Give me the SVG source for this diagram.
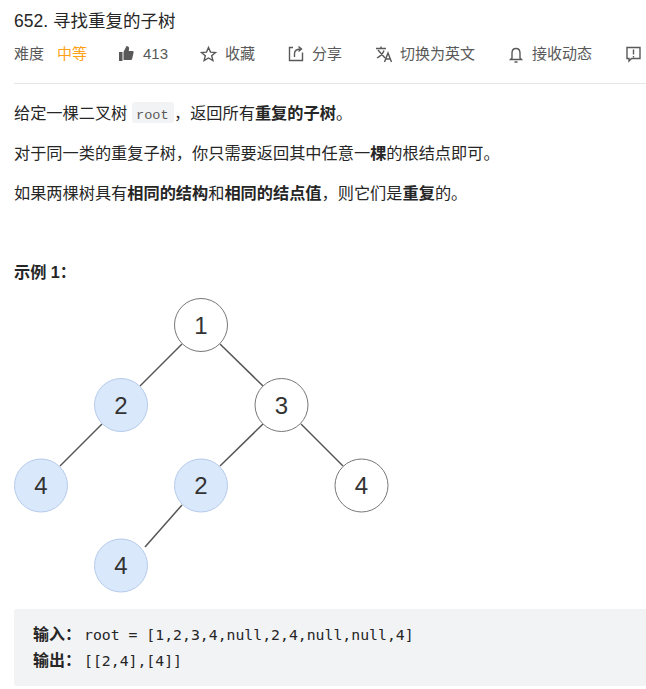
<svg xmlns="http://www.w3.org/2000/svg" width="646" height="689" viewBox="0 0 646 689">
<style>
text{font-family:"Liberation Sans","Noto Sans CJK SC",sans-serif;}
.t{font-size:16.200px;fill:#262626;}
.b{font-weight:bold;}
.m{font-size:15px;fill:#595959;}
.c{font-family:"DejaVu Sans Mono",monospace;font-size:14.800px;fill:#262626;}
.cl{font-size:16px;font-weight:bold;fill:#262626;}
.n{font-family:"Liberation Sans",sans-serif;font-size:24px;fill:#333;text-anchor:middle;}
.nc{stroke:#777;stroke-width:1;fill:#fff;}
.nb{stroke:#b5cbea;stroke-width:1;fill:#dae8fc;}
.e{stroke:#555;stroke-width:1.500;fill:none;}
.i{fill:none;stroke:#595959;stroke-width:1.400;}
</style>
<rect width="646" height="689" fill="#fff"/>
<text x="14" y="27" font-size="17.500" fill="#262626">652. 寻找重复的子树</text>
<g id="meta">
<text class="m" x="14" y="59">难度</text>
<text class="m" x="57" y="59" style="fill:#ffa116">中等</text>
<path d="M119 52h3.500v9H119zM123.500 52l3-6c1.500 0 2.800 1 2.600 2.500l-.4 2.500h3.800c.8 0 1.300.7 1.100 1.500l-1.500 6.500c-.2.600-.6 1-1.200 1h-7.400z" fill="#595959"/>
<text class="m" x="143" y="59">413</text>
<path class="i" d="M208.500 47.500l2 4.600 5 .4-3.800 3.200 1.200 4.900-4.400-2.600-4.400 2.600 1.200-4.900-3.800-3.200 5-.4z"/>
<text class="m" x="225" y="59">收藏</text>
<path class="i" d="M293 47.500h-3.500v13h13v-8M294.500 57v-3.500c0-3 2-4.500 7-4.500M298.500 46.500l3 2.500-3 2.500"/>
<text class="m" x="312" y="59">分享</text>
<path class="i" d="M376 48.500h10M381 46.500v2M378 50l7 8M384 50.500c-1 3-3.500 5.500-7 7.500M384.500 62l3.500-9 3.500 9M385.800 59h4.400" stroke-width="1.200"/>
<text class="m" x="400" y="59">切换为英文</text>
<path class="i" d="M512 58v-5c0-2.500 1.500-4.500 4-4.500s4 2 4 4.500v5l1.500 1.500h-11zM514.500 62h3"/>
<text class="m" x="532" y="59">接收动态</text>
<path class="i" d="M627 47.500h13v11h-8.500l-2.500 2.500v-2.500h-2z"/>
<path d="M633.500 49.500v5M633.500 56v1.500" stroke="#595959" stroke-width="1.400" fill="none"/>
</g>
<rect x="14" y="83" width="632" height="1" fill="#e6e6e6"/>
<g id="body">
<text class="t" x="14" y="119">给定一棵二叉树</text>
<rect x="132" y="102" width="42" height="21" rx="3" fill="#f2f3f5"/>
<text x="136" y="119" style="font-family:'Liberation Mono',monospace;font-size:13.600px;fill:#595959">root</text>
<text class="t" x="174" y="119">，返回所有<tspan class="b">重复的子树</tspan>。</text>
<text class="t" x="14" y="159">对于同一类的重复子树，你只需要返回其中任意一<tspan class="b">棵</tspan>的根结点即可。</text>
<text class="t" x="14" y="199">如果两棵树具有<tspan class="b">相同的结构</tspan>和<tspan class="b">相同的结点值</tspan>，则它们是<tspan class="b">重复</tspan>的。</text>
<text class="t b" x="14" y="278">示例 1：</text>
</g>
<g id="connectors">
<line class="e" x1="182" y1="344" x2="140" y2="386"/>
<line class="e" x1="220" y1="344" x2="263" y2="386"/>
<line class="e" x1="102" y1="424" x2="60" y2="466"/>
<line class="e" x1="263" y1="424" x2="220" y2="466"/>
<line class="e" x1="301" y1="424" x2="343" y2="466"/>
<line class="e" x1="182" y1="505" x2="145" y2="547"/>
</g>
<g id="n1"><circle class="nc" cx="201" cy="325" r="26.500"/><text class="n" x="201" y="333.500">1</text></g>
<g id="n2"><circle class="nb" cx="121" cy="405" r="26.500"/><text class="n" x="121" y="413.500">2</text></g>
<g id="n3"><circle class="nc" cx="281.500" cy="405" r="26.500"/><text class="n" x="281.500" y="413.500">3</text></g>
<g id="n4"><circle class="nb" cx="41" cy="485.500" r="26.500"/><text class="n" x="41" y="494">4</text></g>
<g id="n5"><circle class="nb" cx="201" cy="485.500" r="26.500"/><text class="n" x="201" y="494">2</text></g>
<g id="n6"><circle class="nc" cx="361.500" cy="485.500" r="26.500"/><text class="n" x="361.500" y="494">4</text></g>
<g id="n7"><circle class="nb" cx="121" cy="565.500" r="26.500"/><text class="n" x="121" y="574">4</text></g>
<g id="code">
<rect x="14" y="609" width="640" height="77" rx="3" fill="#f2f3f5"/>
<text class="cl" x="33" y="640">输入：</text>
<text class="c" x="84" y="640">root = [1,2,3,4,null,2,4,null,null,4]</text>
<text class="cl" x="33" y="666">输出：</text>
<text class="c" x="84" y="666">[[2,4],[4]]</text>
</g>
</svg>
